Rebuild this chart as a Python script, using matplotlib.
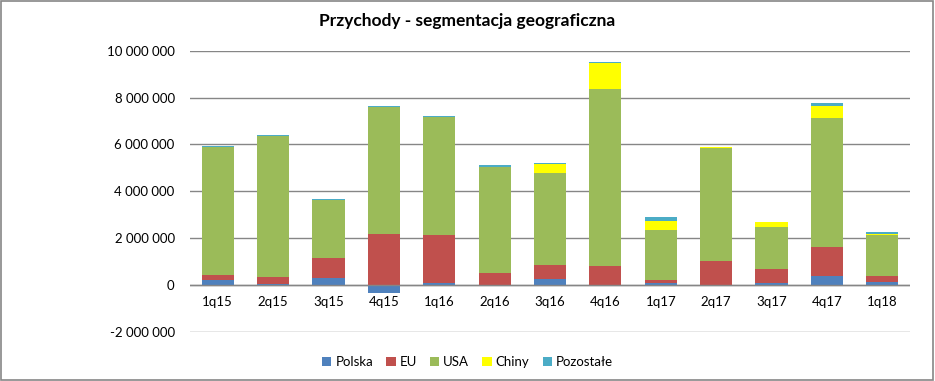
import numpy as np
import matplotlib
matplotlib.use("Agg")
import matplotlib.pyplot as plt
from matplotlib.ticker import FuncFormatter
from matplotlib.patches import Rectangle

#---------------------
# data
#---------------------
quarters = ['1q15', '2q15', '3q15', '4q15', '1q16', '2q16', '3q16',
            '4q16', '1q17', '2q17', '3q17', '4q17', '1q18']
polska    = [230000, 60000, 320000, -330000, 70000, 20000, 270000,
             20000, 70000, 20000, 90000, 400000, 130000]
eu        = [210000, 290000, 850000, 2190000, 2070000, 500000, 600000,
             800000, 160000, 1010000, 590000, 1220000, 250000]
usa       = [5470000, 6020000, 2460000, 5410000, 5020000, 4520000, 3910000,
             7540000, 2130000, 4820000, 1790000, 5490000, 1750000]
chiny     = [0, 0, 0, 0, 0, 0, 400000, 1110000, 380000, 50000, 210000, 520000, 70000]
pozostale = [40000, 30000, 40000, 20000, 50000, 90000, 30000,
             40000, 170000, 0, 0, 120000, 60000]

series_names = ['Polska', 'EU', 'USA', 'Chiny', 'Pozostałe']
series_colors = ['#4F81BD', '#C0504D', '#9BBB59', '#FFFF00', '#4BACC6']
yticks = [-2000000, 0, 2000000, 4000000, 6000000, 8000000, 10000000]

plt.rcParams['font.family'] = ['Lato', 'DejaVu Sans']

fig = plt.figure(figsize=(9.35, 3.81), dpi=100)
ax = fig.add_axes([0.2032, 0.1286, 0.7700, 0.7384])

x = np.arange(len(quarters))
pos_base = np.zeros(len(quarters))
neg_base = np.zeros(len(quarters))
for name, vals, col in zip(series_names, [polska, eu, usa, chiny, pozostale], series_colors):
    v = np.array(vals, dtype=float)
    bottom = np.where(v >= 0, pos_base, neg_base)
    ax.bar(x, v, 0.58, bottom=bottom, color=col, label=name, zorder=3)
    pos_base += np.where(v >= 0, v, 0)
    neg_base += np.where(v < 0, v, 0)

ax.set_xlim(-0.5, len(quarters) - 0.5)
ax.set_ylim(-2000000, 10000000)
ax.set_yticks(yticks)
ax.yaxis.set_major_formatter(FuncFormatter(lambda v, p: f"{int(v):,}".replace(',', ' ')))
ax.set_xticks(x)
ax.set_xticklabels(quarters)
# category labels sit at the zero line, like in Excel
ax.spines['bottom'].set_position(('data', 0))
ax.tick_params(axis='both', length=0, labelsize=9.5)
ax.tick_params(axis='y', pad=11)
ax.tick_params(axis='x', pad=8)
ax.grid(axis='y', color='#868686', linewidth=1.0, zorder=0)
ax.axhline(0, color='#868686', linewidth=1.0, zorder=4)
for s in ax.spines.values():
    s.set_visible(False)

fig.text(0.5, 0.945, 'Przychody - segmentacja geograficzna', ha='center', va='center',
         fontsize=12.5, fontweight='bold')

leg = fig.legend(loc='center', bbox_to_anchor=(0.5, 0.05), ncol=5, frameon=False,
                 fontsize=9.5, handlelength=0.7, handleheight=0.7, handletextpad=0.3,
                 columnspacing=1.0)

fig.patches.append(Rectangle((0.001, 0.002), 0.997, 0.995, transform=fig.transFigure,
                             fill=False, edgecolor='#868686', linewidth=1.2))

fig.savefig('out.png', dpi=100)
